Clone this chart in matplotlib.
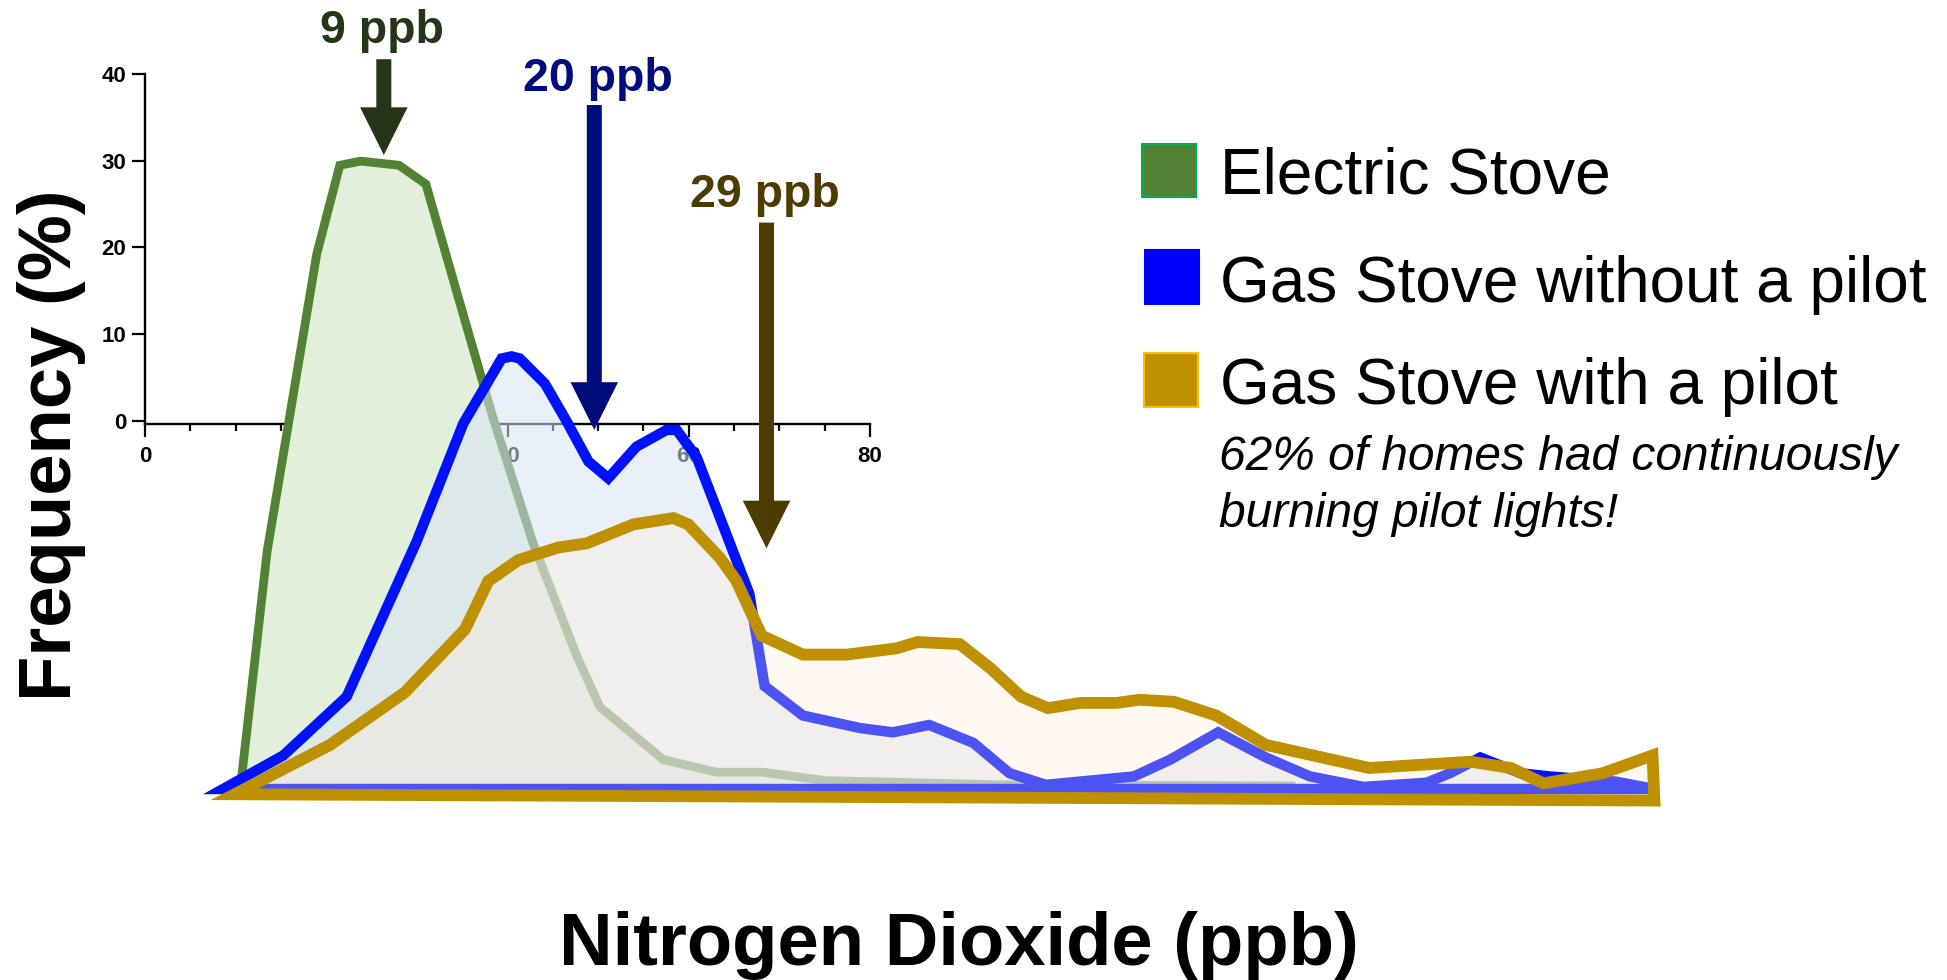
import matplotlib
matplotlib.use('Agg')
import matplotlib.pyplot as plt
from matplotlib.patches import Rectangle
from matplotlib.ticker import MultipleLocator

plt.rcParams['font.family'] = ['Liberation Sans', 'DejaVu Sans']

# outlines: NO2 (ppb) vs frequency (%)
elec_x = [1.5, 2.9, 5.5, 6.7, 7.8, 9.8, 11.2, 12.8, 14.7, 16.8, 19.1, 20.3,
          23.6, 26.4, 28.8, 32.1, 41.2, 56.4, 56.4]
elec_y = [0.0, 11.3, 25.5, 29.7, 29.9, 29.7, 28.8, 23.7, 17.7, 11.7, 6.3, 3.9,
          1.4, 0.8, 0.8, 0.4, 0.2, 0.15, 0.0]

nopilot_x = [0.6, 3.75, 7.06, 10.72, 13.15, 15.16, 15.68, 16.1, 17.42, 18.56,
             19.69, 20.73, 22.2, 23.78, 24.3, 25.35, 28.1, 28.9, 30.9, 33.9,
             35.6, 37.5, 39.8, 41.7, 43.6, 48.2, 50.1, 52.6, 55.1, 57.4, 60.2,
             63.5, 64.7, 66.3, 68.4, 69.9, 73.4, 75.4]
nopilot_y = [0.0, 1.6, 4.4, 11.8, 17.4, 20.5, 20.6, 20.5, 19.3, 17.5,
             15.6, 14.8, 16.3, 17.1, 17.1, 15.8, 9.3, 4.9, 3.5, 2.9,
             2.7, 3.05, 2.2, 0.75, 0.2, 0.6, 1.4, 2.7, 1.5, 0.6, 0.1,
             0.3, 0.75, 1.5, 0.75, 0.6, 0.35, 0.0]

pilot_x = [1.2, 6.19, 10.1, 13.24, 14.46, 16.03, 18.12, 19.6, 22.04, 24.13,
           24.91, 26.57, 27.4, 28.75, 30.9, 33.2, 35.8, 36.9, 39.1, 40.7,
           42.3, 43.7, 45.4, 47.3, 48.5, 50.3, 52.5, 55.1, 60.5, 65.8, 67.9,
           69.6, 72.7, 75.3, 75.4]
pilot_y = [-0.25, 2.1, 4.6, 7.6, 9.9, 10.9, 11.5, 11.7, 12.6, 12.9,
           12.6, 11.0, 9.95, 7.3, 6.4, 6.4, 6.7, 7.0, 6.9, 5.75,
           4.4, 3.85, 4.1, 4.1, 4.25, 4.15, 3.5, 2.1, 1.0, 1.3, 1.0,
           0.27, 0.75, 1.6, -0.55]

# median markers
medians = [9, 20, 29]
median_labels = ['9 ppb', '20 ppb', '29 ppb']
label_x = [8.9, 20.2, 28.9]
label_y = [35.54, 33.25, 27.73]
arrow_top = [34.75, 32.57, 26.97]
arrow_tip = [30.19, 17.1, 11.46]
arrow_colors = ['#243518', '#000c7b', '#4d3b02']

legend_labels = ['Electric Stove', 'Gas Stove without a pilot',
                 'Gas Stove with a pilot']
note_lines = ['62% of homes had continuously', 'burning pilot lights!']

W, H = 1947, 980
fig = plt.figure(figsize=(W / 100, H / 100), dpi=100)


def fx(px):
    return px / W


def fy(py):
    return 1 - py / H


# the small axis left in the upper-left corner
inset = fig.add_axes([fx(145), fy(424), fx(870) - fx(145), fy(74) - fy(424)])
inset.set_xlim(0, 80)
inset.set_ylim(-0.35, 40)
inset.spines[['top', 'right']].set_visible(False)
inset.spines[['left', 'bottom']].set_linewidth(1.7)
inset.xaxis.set_major_locator(MultipleLocator(20))
inset.xaxis.set_minor_locator(MultipleLocator(5))
inset.yaxis.set_major_locator(MultipleLocator(10))
inset.tick_params(axis='x', which='major', length=9.5, width=1.6, pad=6, labelsize=16)
inset.tick_params(axis='x', which='minor', length=5, width=1.6)
inset.tick_params(axis='y', length=9.6, width=1.6, pad=4, labelsize=16)
plt.setp(inset.get_xticklabels() + inset.get_yticklabels(), fontweight='bold')
inset.patch.set_visible(False)

ax = fig.add_axes([0, 0, 1, 1])
ax.set_xlim(-11.058, 90.69)
ax.set_ylim(-9.095, 37.571)
ax.axis('off')

ax.fill(elec_x, elec_y, facecolor='#e2efda', edgecolor='#548235', linewidth=6.3)
ax.fill(nopilot_x, nopilot_y, facecolor=(0.852, 0.893, 0.964, 0.55),
        edgecolor='#0011ff', linewidth=7.5)
ax.fill(pilot_x, pilot_y, facecolor=(1.0, 0.933, 0.833, 0.3),
        edgecolor='#bf9000', linewidth=8.5)

for m, lab, lx, ly, top, tip, c in zip(medians, median_labels, label_x, label_y,
                                       arrow_top, arrow_tip, arrow_colors):
    ax.arrow(m, top, 0, tip - top, width=0.784, head_width=2.48, head_length=2.27,
             length_includes_head=True, color=c, linewidth=0)
    ax.text(lx, ly, lab, ha='center', va='baseline', fontsize=33.5,
            fontweight='bold', color=c)

# legend drawn by hand
boxes = [(1142, 144, 54, 53), (1145, 250, 54, 54), (1144, 353, 54, 54)]
box_faces = ['#548235', '#0000ff', '#bf9000']
box_edges = ['#00b050', '#0000ff', '#ffc000']
text_base = [194, 302, 404]
for (x0, y0, w, h), fc, ec, lab, yb in zip(boxes, box_faces, box_edges,
                                           legend_labels, text_base):
    fig.patches.append(Rectangle((fx(x0), fy(y0 + h)), w / W, h / H,
                                 facecolor=fc, edgecolor=ec, linewidth=1.5,
                                 transform=fig.transFigure))
    fig.text(fx(1220), fy(yb), lab, fontsize=46, va='baseline')

for line, yb in zip(note_lines, [470, 527]):
    fig.text(fx(1219), fy(yb), line, fontsize=34.5, style='italic', va='baseline')

fig.text(fx(52), fy(445), 'Frequency (%)', rotation=90, ha='center', va='center',
         fontsize=53.5, fontweight='bold')
fig.text(fx(959), fy(965), 'Nitrogen Dioxide (ppb)', ha='center', va='baseline',
         fontsize=53.5, fontweight='bold')

fig.savefig('out.png', dpi=100)
